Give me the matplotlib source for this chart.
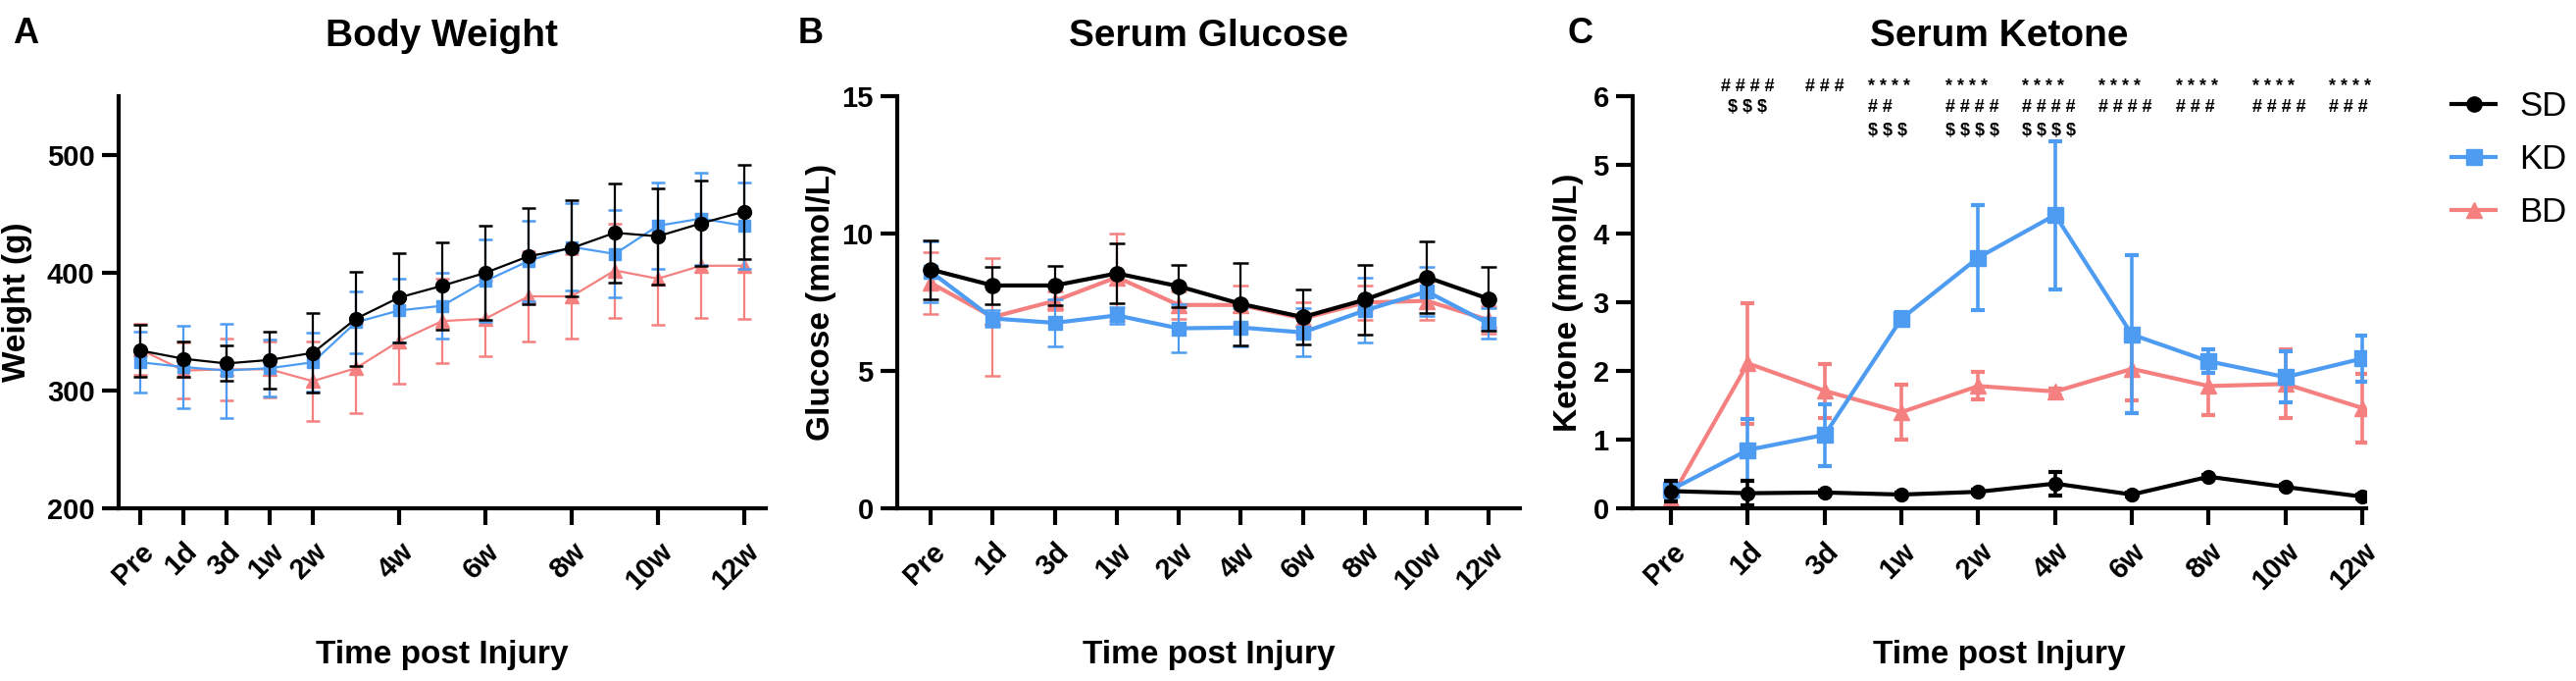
import numpy as np
import matplotlib
matplotlib.use('Agg')
import matplotlib.pyplot as plt
from matplotlib.lines import Line2D

plt.rcParams['font.family'] = ['Liberation Sans', 'DejaVu Sans']

# ---- data ----
groups = ['SD', 'KD', 'BD']
colors = {'SD': '#000000', 'KD': '#4D9CF2', 'BD': '#F48080'}
markers = {'SD': 'o', 'KD': 's', 'BD': '^'}
zorders = {'BD': 2, 'KD': 3, 'SD': 4}

# body weight, weekly points (3w, 5w, ... have no tick label)
bw_times = ['Pre', '1d', '3d', '1w', '2w', '3w', '4w', '5w', '6w', '7w', '8w', '9w', '10w', '11w', '12w']
bw_labels = ['Pre', '1d', '3d', '1w', '2w', '', '4w', '', '6w', '', '8w', '', '10w', '', '12w']
bw_sd = [334, 327, 323, 326, 332, 361, 379, 389, 400, 414, 421, 434, 431, 442, 452]
bw_sd_err = [22, 15, 15, 24, 34, 40, 38, 37, 40, 41, 41, 42, 41, 36, 40]
bw_kd = [324, 320, 317, 319, 324, 358, 368, 372, 393, 410, 422, 416, 440, 446, 440]
bw_kd_err = [26, 35, 40, 24, 25, 26, 27, 28, 35, 34, 37, 37, 37, 39, 37]
bw_bd = [335, 317, 318, 318, 308, 319, 342, 359, 361, 380, 380, 402, 395, 406, 406]
bw_bd_err = [22, 24, 26, 24, 34, 38, 36, 36, 32, 38, 36, 40, 39, 44, 45]

times = ['Pre', '1d', '3d', '1w', '2w', '4w', '6w', '8w', '10w', '12w']

glu_sd = [8.69, 8.11, 8.11, 8.55, 8.08, 7.44, 6.96, 7.59, 8.41, 7.62]
glu_sd_err = [1.07, 0.67, 0.70, 1.10, 0.76, 1.50, 1.00, 1.28, 1.30, 1.15]
glu_kd = [8.61, 6.91, 6.75, 7.02, 6.55, 6.58, 6.40, 7.20, 7.89, 6.72]
glu_kd_err = [1.10, 0.30, 0.87, 0.30, 0.88, 0.70, 0.88, 1.18, 0.90, 0.55]
glu_bd = [8.20, 6.96, 7.55, 8.41, 7.40, 7.40, 6.91, 7.49, 7.55, 6.85]
glu_bd_err = [1.13, 2.15, 0.35, 1.60, 0.50, 0.70, 0.60, 0.63, 0.70, 0.50]

ket_sd = [0.25, 0.22, 0.23, 0.20, 0.24, 0.36, 0.20, 0.46, 0.31, 0.17]
ket_sd_err = [0.15, 0.18, 0.03, 0.03, 0.03, 0.17, 0.03, 0.03, 0.03, 0.03]
ket_kd = [0.27, 0.85, 1.07, 2.76, 3.65, 4.27, 2.53, 2.14, 1.91, 2.18]
ket_kd_err = [0.12, 0.45, 0.45, 0.10, 0.76, 1.08, 1.15, 0.17, 0.37, 0.33]
ket_bd = [0.15, 2.11, 1.71, 1.40, 1.78, 1.70, 2.03, 1.78, 1.81, 1.46]
ket_bd_err = [0.10, 0.88, 0.39, 0.40, 0.20, 0.05, 0.46, 0.42, 0.50, 0.50]

# significance marks above the ketone panel
ann_line1 = ['', '# # # #', '# # #', '* * * *', '* * * *', '* * * *', '* * * *', '* * * *', '* * * *', '* * * *']
ann_line2 = ['', '$ $ $', '', '# #', '# # # #', '# # # #', '# # # #', '# # #', '# # # #', '# # #']
ann_line3 = ['', '', '', '$ $ $', '$ $ $ $', '$ $ $ $', '', '', '', '']

W, H = 2627, 694
fig = plt.figure(figsize=(W / 100, H / 100), dpi=100)


def style_axes(ax):
    for s in ['top', 'right']:
        ax.spines[s].set_visible(False)
    for s in ['left', 'bottom']:
        ax.spines[s].set_linewidth(3)
    ax.tick_params(width=3, length=12.5, labelsize=21, pad=5)
    ax.tick_params(axis='x', pad=9)
    for lab in ax.get_yticklabels():
        lab.set_fontweight('bold')
    for lab in ax.get_xticklabels():
        lab.set_fontweight('bold')
        lab.set_rotation(45)
        lab.set_ha('right')
        lab.set_rotation_mode('anchor')


def draw(ax, x, series, ms, lw, elw, cap, capthick):
    for g in ['BD', 'KD', 'SD']:
        m, e = series[g]
        ax.errorbar(x, m, yerr=e, color=colors[g], marker=markers[g], ms=ms[g],
                    lw=lw, elinewidth=elw, capsize=cap, capthick=capthick,
                    zorder=zorders[g])


def axes_at(left, right, top=98, bottom=518):
    return fig.add_axes([left / W, 1 - bottom / H, (right - left) / W, (bottom - top) / H])


# ---- A: body weight ----
ax_a = axes_at(121, 781)
x_a = np.arange(len(bw_times))
draw(ax_a, x_a, {'SD': (bw_sd, bw_sd_err), 'KD': (bw_kd, bw_kd_err), 'BD': (bw_bd, bw_bd_err)},
     {'SD': 10, 'KD': 8.5, 'BD': 9.5}, 1.6, 1.6, 5, 1.8)
ax_a.set_xlim(-0.5, 14.5)
ax_a.set_ylim(200, 550)
ax_a.set_yticks([200, 300, 400, 500])
tick_idx = [i for i, t in enumerate(bw_labels) if t]
ax_a.set_xticks(tick_idx)
ax_a.set_xticklabels([bw_labels[i] for i in tick_idx])
ax_a.set_ylabel('Weight (g)', fontsize=24, fontweight='bold')
ax_a.set_xlabel('Time post Injury', fontsize=24, fontweight='bold')
style_axes(ax_a)

# ---- B: glucose ----
ax_b = axes_at(915, 1550)
x = np.arange(len(times))
draw(ax_b, x, {'SD': (glu_sd, glu_sd_err), 'KD': (glu_kd, glu_kd_err), 'BD': (glu_bd, glu_bd_err)},
     {'SD': 11, 'KD': 10.5, 'BD': 11}, 3, 1.6, 5.5, 1.8)
ax_b.set_xlim(-0.54, 9.5)
ax_b.set_ylim(0, 15)
ax_b.set_yticks([0, 5, 10, 15])
ax_b.set_xticks(x)
ax_b.set_xticklabels(times)
ax_b.set_ylabel('Glucose (mmol/L)', fontsize=24, fontweight='bold')
ax_b.set_xlabel('Time post Injury', fontsize=24, fontweight='bold')
style_axes(ax_b)

# ---- C: ketone ----
ax_c = axes_at(1665, 2413)
draw(ax_c, x, {'SD': (ket_sd, ket_sd_err), 'KD': (ket_kd, ket_kd_err), 'BD': (ket_bd, ket_bd_err)},
     {'SD': 10, 'KD': 11, 'BD': 11}, 3, 2.6, 5, 3)
ax_c.set_xlim(-0.5, 9.05)
ax_c.set_ylim(0, 6)
ax_c.set_yticks(range(7))
ax_c.set_xticks(x)
ax_c.set_xticklabels(times)
ax_c.set_ylabel('Ketone (mmol/L)', fontsize=24, fontweight='bold')
ax_c.set_xlabel('Time post Injury', fontsize=24, fontweight='bold')
style_axes(ax_c)

for i in x:
    if i in (1, 2):
        xpos, ha = i, 'center'
    else:
        xpos, ha = i - 0.43, 'left'
    for txt, yy in zip([ann_line1[i], ann_line2[i], ann_line3[i]], [6.14, 5.84, 5.50]):
        if txt:
            ax_c.text(xpos, yy, txt, ha=ha, va='center', fontsize=13,
                      fontweight='bold', clip_on=False, parse_math=False)

# label placement
ax_a.yaxis.set_label_coords(-0.133, 0.5)
ax_b.yaxis.set_label_coords(-0.098, 0.5)
ax_c.yaxis.set_label_coords(-0.067, 0.5)
for ax in (ax_a, ax_b, ax_c):
    ax.xaxis.set_label_coords(0.5, -0.32)

# titles and panel letters
for ax, title, letter, lx in [(ax_a, 'Body Weight', 'A', 13),
                              (ax_b, 'Serum Glucose', 'B', 814),
                              (ax_c, 'Serum Ketone', 'C', 1598)]:
    pos = ax.get_position()
    fig.text(pos.x0 + pos.width / 2, 1 - 47 / H, title, ha='center', va='baseline',
             fontsize=28, fontweight='bold')
    fig.text(lx / W, 1 - 44 / H, letter, ha='left', va='baseline',
             fontsize=26, fontweight='bold')

# legend
handles = [Line2D([], [], color=colors[g], marker=markers[g], lw=3, ms=11)
           for g in groups]
fig.legend(handles, groups, loc='upper left', bbox_to_anchor=(2500 / W, 1 - 92 / H),
           frameon=False, fontsize=25, handlelength=1.3, handletextpad=0.7,
           labelspacing=0.6, borderpad=0, borderaxespad=0)

fig.savefig('out.png', dpi=100)
